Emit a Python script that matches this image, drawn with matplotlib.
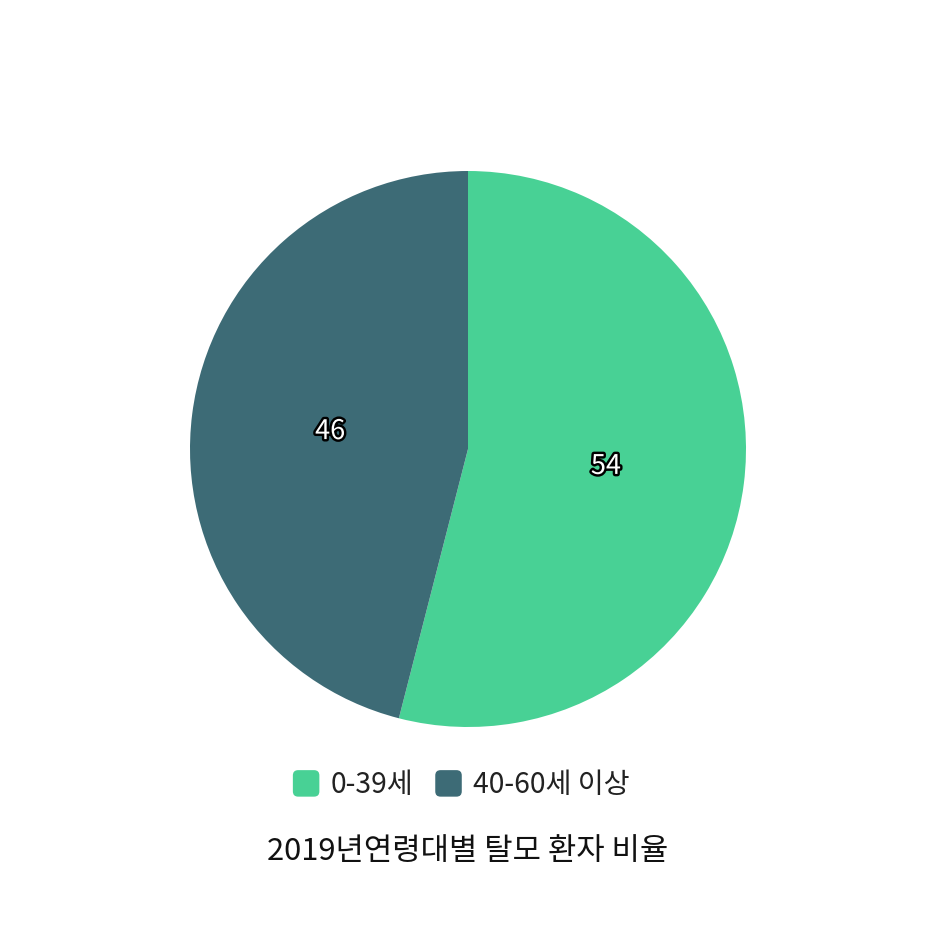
import matplotlib
matplotlib.use("Agg")
import matplotlib.pyplot as plt
import matplotlib.patheffects as pe
from matplotlib.patches import FancyBboxPatch, Patch
from matplotlib.legend_handler import HandlerPatch

plt.rcParams['font.family'] = ['Noto Sans CJK KR', 'DejaVu Sans']

categories = ['0-39세', '40-60세 이상']
values = [54, 46]
colors = ['#48D195', '#3D6B76']
title = '2019년연령대별 탈모 환자 비율'

W = H = 936
fig = plt.figure(figsize=(W / 100, H / 100), dpi=100)
cx, cy, r = 468, 936 - 449, 278
ax = fig.add_axes([(cx - r) / W, (cy - r) / H, 2 * r / W, 2 * r / H])

wedges, texts = ax.pie(values, colors=colors, startangle=90, counterclock=False,
                       labels=[str(v) for v in values], labeldistance=0.5,
                       wedgeprops=dict(linewidth=0))
for t in texts:
    t.set_ha('center'); t.set_va('center')
    t.set_fontsize(19.5); t.set_fontweight('medium'); t.set_color('white')
    t.set_path_effects([pe.withStroke(linewidth=3.5, foreground='black')])
ax.set_xlim(-1, 1); ax.set_ylim(-1, 1)
ax.set_aspect('equal')


class RoundHandler(HandlerPatch):
    def create_artists(self, legend, orig_handle, xdescent, ydescent, width, height, fontsize, trans):
        s = min(width, height)
        p = FancyBboxPatch((-xdescent + (width - s) / 2, -ydescent + (height - s) / 2), s, s,
                           boxstyle='round,pad=0,rounding_size=%f' % (s * 0.2),
                           facecolor=orig_handle.get_facecolor(), edgecolor='none',
                           transform=trans)
        return [p]

handles = [Patch(facecolor=c, label=l) for c, l in zip(colors, categories)]
fig.legend(handles=handles, loc='center', bbox_to_anchor=(460.5 / W, 1 - 785 / H),
           ncol=2, frameon=False, fontsize=20.3, handlelength=1.07, handleheight=1.07,
           handletextpad=0.35, columnspacing=0.7,
           handler_map={Patch: RoundHandler()}, labelcolor='#222222')

fig.text(0.5, 1 - 852 / H, title, ha='center', va='center', fontsize=22.2, color='#111111')

fig.savefig('out.png', dpi=100, facecolor='white')
